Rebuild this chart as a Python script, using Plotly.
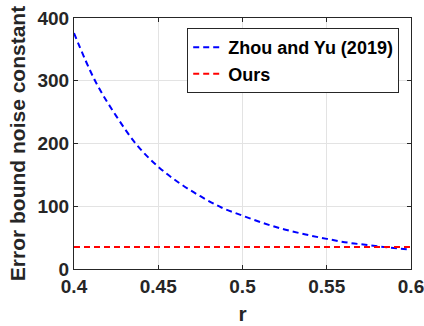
import plotly.graph_objects as go

r_vals = [0.4, 0.4125, 0.425, 0.4375, 0.45, 0.4625, 0.475, 0.4875, 0.5, 0.5125, 0.525, 0.5375, 0.55, 0.5625, 0.575, 0.5875, 0.6]
zhou_vals = [376, 300, 244, 197, 163, 137, 116, 98, 85, 73, 63, 55, 48, 42, 38, 34, 31]
ours_r = [0.4, 0.6]
ours_vals = [35, 35]

x_ticks = [0.4, 0.45, 0.5, 0.55, 0.6]
x_ticklabels = ["0.4", "0.45", "0.5", "0.55", "0.6"]
y_ticks = [0, 100, 200, 300, 400]

FAM = "Liberation Sans, Arial, sans-serif"

fig = go.Figure()
fig.add_trace(go.Scatter(x=r_vals, y=zhou_vals, mode="lines", name="Zhou and Yu (2019)",
                         line=dict(color="#0000ff", width=2, dash="6px,4px", shape="spline")))
fig.add_trace(go.Scatter(x=ours_r, y=ours_vals, mode="lines", name="Ours",
                         line=dict(color="#ff0000", width=2, dash="6px,4px")))

fig.update_layout(
    width=424, height=326,
    margin=dict(l=74, r=13, t=18, b=57),
    paper_bgcolor="white", plot_bgcolor="white",
    font=dict(family=FAM, size=19, color="#262626"),
    showlegend=True,
    legend=dict(x=0.965, y=0.96, xanchor="right", yanchor="top",
                bgcolor="white", bordercolor="#262626", borderwidth=1,
                font=dict(family=FAM, size=18, color="black", weight="bold"),
                itemwidth=30, tracegroupgap=0),
)
fig.update_xaxes(range=[0.4, 0.6000001], tickvals=x_ticks, ticktext=x_ticklabels,
                 ticklabeloverflow="allow", automargin=False,
                 showgrid=True, gridcolor="#e3e3e3", gridwidth=1,
                 showline=True, linecolor="#262626", linewidth=1, mirror="ticks",
                 ticks="inside", ticklen=4, tickcolor="#262626",
                 tickfont=dict(family=FAM, size=19, color="#262626", weight="bold"),
                 title=dict(text="r", font=dict(family=FAM, size=21, color="#262626", weight="bold"), standoff=10),
                 zeroline=False)
fig.update_yaxes(range=[0, 400], tickvals=y_ticks, automargin=False,
                 showgrid=True, gridcolor="#e3e3e3", gridwidth=1,
                 showline=True, linecolor="#262626", linewidth=1, mirror="ticks",
                 ticks="inside", ticklen=4, tickcolor="#262626",
                 tickfont=dict(family=FAM, size=19, color="#262626", weight="bold"),
                 title=dict(text="Error bound noise constant", font=dict(family=FAM, size=21, color="#262626", weight="bold"), standoff=6),
                 zeroline=False)

fig.write_html("out.html")
